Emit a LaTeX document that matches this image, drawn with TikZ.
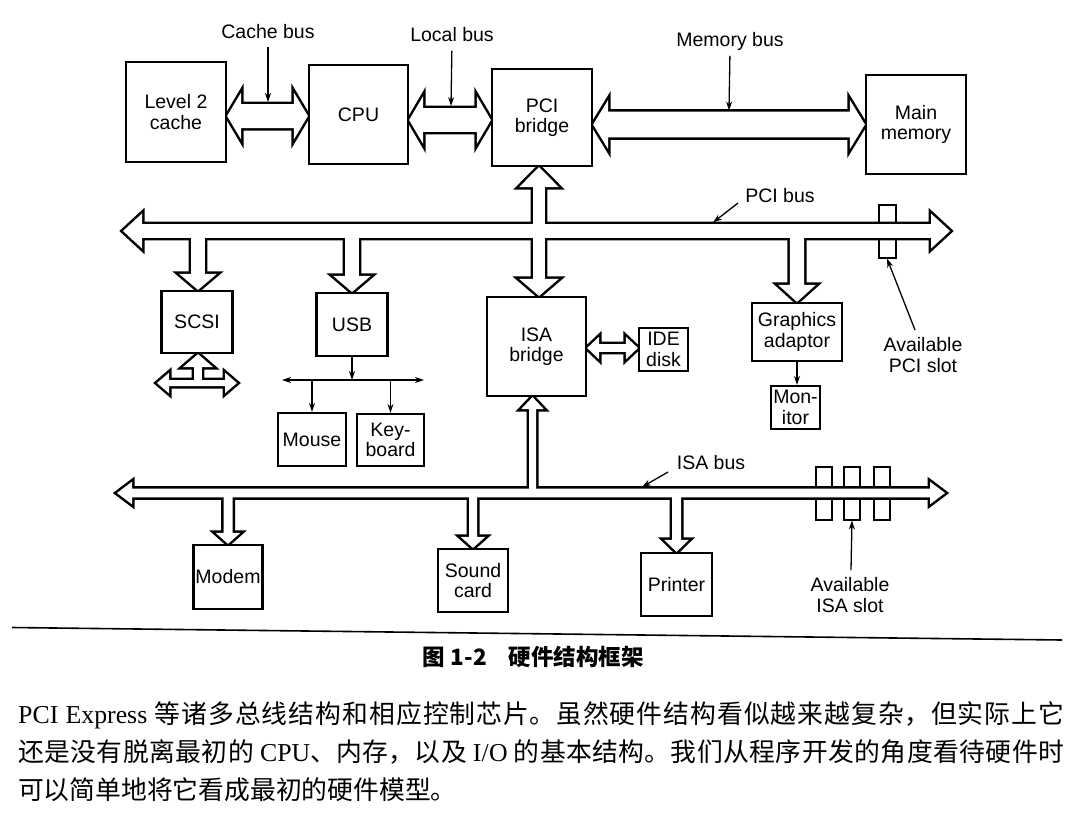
\documentclass[tikz,border=0pt]{standalone}
\usepackage{fontspec}
\setmainfont{Liberation Sans}
\newfontfamily\cjk{Noto Sans CJK SC}
\newfontfamily\tnr{Liberation Serif}
\usetikzlibrary{calc,arrows.meta}
\pgfdeclarelayer{bg}
\pgfsetlayers{bg,main}
\XeTeXlinebreaklocale "zh"
\XeTeXlinebreakskip=0pt plus 4pt
\XeTeXlinebreakpenalty=10000
% horizontal double fat arrow: left tip, right tip, shaft half, head half, head length
\newcommand\HD[5]{(#1) -- ($(#1)+(#5,-#4)$) -- ($(#1)+(#5,-#3)$) -- ($(#2)+(-#5,-#3)$) -- ($(#2)+(-#5,-#4)$) -- (#2) -- ($(#2)+(-#5,#4)$) -- ($(#2)+(-#5,#3)$) -- ($(#1)+(#5,#3)$) -- ($(#1)+(#5,#4)$) -- cycle}
% vertical fat arrow pointing down: start, tip, shaft half, head half, head length
\newcommand\VDn[5]{($(#1)+(-#3,0)$) -- ($(#2)+(-#3,-#5)$) -- ($(#2)+(-#4,-#5)$) -- (#2) -- ($(#2)+(#4,-#5)$) -- ($(#2)+(#3,-#5)$) -- ($(#1)+(#3,0)$) -- cycle}
% vertical fat arrow pointing up
\newcommand\VUp[5]{($(#1)+(-#3,0)$) -- ($(#2)+(-#3,#5)$) -- ($(#2)+(-#4,#5)$) -- (#2) -- ($(#2)+(#4,#5)$) -- ($(#2)+(#3,#5)$) -- ($(#1)+(#3,0)$) -- cycle}
\newcommand\fatshapes[1]{%
 \path[#1] \HD{cbL}{cbR}{12}{23.5}{14};
 \path[#1] \HD{lbL}{lbR}{11.8}{23.8}{14};
 \path[#1] \HD{mbL}{mbR}{12.8}{24.5}{15};
 \path[#1] \HD{pciL}{pciR}{6.8}{17.5}{19};
 \path[#1] \VUp{pUpS}{pUpT}{5.8}{19.8}{20};
 \path[#1] \VDn{pUpS}{pDnT}{5.8}{19.8}{17};
 \path[#1] \VDn{scsiS}{scsiT}{6.8}{18.8}{16};
 \path[#1] \VDn{usbS}{usbT}{6.8}{18.8}{16};
 \path[#1] \VDn{gfxS}{gfxT}{7.2}{18.8}{17};
 \path[#1] \HD{isaL}{isaR}{4.3}{11.3}{15};
 \path[#1] \VUp{iUpS}{iUpT}{3.5}{11.3}{12};
 \path[#1] \VDn{modemS}{modemT}{4.5}{12.3}{11};
 \path[#1] \VDn{soundS}{soundT}{4}{12.3}{11};
 \path[#1] \VDn{printS}{printT}{4.5}{12.3}{12};
 \path[#1] \HD{sbL}{sbR}{3}{10.3}{12};
 \path[#1] \VUp{sUpS}{sUpT}{3.8}{15}{13};
 \path[#1] \HD{ideL}{ideR}{3.8}{11.3}{12};
}
\newcommand\lab{\fontsize{19.5}{20.5}\selectfont}
\begin{document}
\begin{tikzpicture}[x=1pt,y=-1pt,
  box/.style={draw, line width=2.2pt, fill=white, inner sep=0pt, align=center, font=\lab},
  lbl/.style={inner sep=0pt, align=center, font=\lab},
  slotbox/.style={draw, line width=2pt, inner sep=0pt},
  fatline/.style={draw=black, line width=5pt, line join=miter, miter limit=10},
  fatfill/.style={fill=white},
  ptr/.style={line width=1.3pt, -{Stealth[length=9pt,width=6pt]}},
  ptrbi/.style={line width=1.3pt, {Stealth[length=9pt,width=6pt]}-{Stealth[length=9pt,width=6pt]}},
  body/.style={text width=1046pt, align=justify, inner sep=0pt, font=\cjk\fontsize{25.8}{30}\selectfont}]
\useasboundingbox (0,0) rectangle (1077,823);
% ---------- boxes ----------
\node[box, minimum width=100pt, minimum height=100pt] (l2) at (176,112) {Level 2\\cache};
\node[box, minimum width=99pt, minimum height=99pt] (cpu) at (358.5,114.5) {CPU};
\node[box, minimum width=100pt, minimum height=97pt] (pcib) at (542,117.5) {PCI\\bridge};
\node[box, minimum width=100pt, minimum height=99pt] (mem) at (916,124.5) {Main\\memory};
\node[box, minimum width=71pt, minimum height=62pt] (scsi) at (197,322) {SCSI};
\node[box, minimum width=71pt, minimum height=63pt] (usb) at (352,324.5) {USB};
\node[box, minimum width=68pt, minimum height=53pt] (mouse) at (312,439.5) {Mouse};
\node[box, minimum width=67pt, minimum height=52pt] (kbd) at (390.5,440) {Key-\\board};
\node[box, minimum width=99pt, minimum height=99pt] (isab) at (536.5,346.5) {ISA\\bridge};
\node[box, minimum width=49pt, minimum height=43pt] (ide) at (663.5,349.5) {IDE\\disk};
\node[box, minimum width=90pt, minimum height=58pt] (gfx) at (797,332) {Graphics\\adaptor};
\node[box, minimum width=49pt, minimum height=43pt] (mon) at (795.5,407.5) {Mon-\\itor};
\node[box, minimum width=69pt, minimum height=64pt] (modem) at (228,577) {Modem};
\node[box, minimum width=70pt, minimum height=63pt] (sound) at (473,580.5) {Sound\\card};
\node[box, minimum width=71pt, minimum height=63pt] (printer) at (676.5,584.5) {Printer};
% ---------- bus labels ----------
\node[lbl, anchor=base] (lblCache) at (268,38.5) {Cache bus};
\node[lbl, anchor=base] (lblLocal) at (452,41.5) {Local bus};
\node[lbl, anchor=base] (lblMem) at (730,46.5) {Memory bus};
\node[lbl, anchor=base] (lblPCI) at (780,202) {PCI bus};
\node[lbl, anchor=base] (lblISA) at (711,469.5) {ISA bus};
\node[lbl, anchor=north] (lblPslot) at (923,337.5) {Available\\PCI slot};
\node[lbl, anchor=north] (lblIslot) at (850,577.5) {Available\\ISA slot};
% ---------- helper coordinates ----------
\coordinate (yCache) at (0,116);
\coordinate (yLocal) at (0,120);
\coordinate (yMem) at (0,124.5);
\coordinate (yPCI) at (0,231);
\coordinate (yISA) at (0,493);
\coordinate (ySbar) at (0,383);
\coordinate (yIDE) at (0,348);
\coordinate (yUSB) at (0,380);
\coordinate (vx) at (539,0);
\coordinate (xSCSI) at (198,0);
\coordinate (xIU) at (532.5,0);
\coordinate (cbL) at (l2.east |- yCache);
\coordinate (cbR) at (cpu.west |- yCache);
\coordinate (lbL) at (cpu.east |- yLocal);
\coordinate (lbR) at (pcib.west |- yLocal);
\coordinate (mbL) at (pcib.east |- yMem);
\coordinate (mbR) at (mem.west |- yMem);
\coordinate (pciL) at (123,231);
\coordinate (pciR) at (950,231);
\coordinate (pUpT) at (vx |- pcib.south);
\coordinate (pUpS) at (vx |- yPCI);
\coordinate (pDnT) at (vx |- isab.north);
\coordinate (scsiT) at (xSCSI |- scsi.north);
\coordinate (scsiS) at (xSCSI |- yPCI);
\coordinate (usbT) at (usb.north);
\coordinate (usbS) at (usb.north |- yPCI);
\coordinate (gfxT) at (gfx.north);
\coordinate (gfxS) at (gfx.north |- yPCI);
\coordinate (isaL) at (117,493);
\coordinate (isaR) at (945,493);
\coordinate (iUpT) at (xIU |- isab.south);
\coordinate (iUpS) at (xIU |- yISA);
\coordinate (modemT) at (modem.north);
\coordinate (modemS) at (modem.north |- yISA);
\coordinate (soundT) at (sound.north);
\coordinate (soundS) at (sound.north |- yISA);
\coordinate (printT) at (printer.north);
\coordinate (printS) at (printer.north |- yISA);
\coordinate (sbL) at (157,383);
\coordinate (sbR) at (237,383);
\coordinate (sUpT) at (xSCSI |- scsi.south);
\coordinate (sUpS) at (xSCSI |- ySbar);
\coordinate (ideL) at (isab.east |- yIDE);
\coordinate (ideR) at (ide.west |- yIDE);
% ---------- slots and fat arrows (background) ----------
\begin{pgfonlayer}{bg}
\fill[white] (0,0) rectangle (1077,823);
\node[slotbox, minimum width=17pt, minimum height=53pt] (pslot) at (887,231) {};
\node[slotbox, minimum width=16pt, minimum height=53pt] (islot1) at (824,493) {};
\node[slotbox, minimum width=16pt, minimum height=53pt] (islot2) at (852,493) {};
\node[slotbox, minimum width=16pt, minimum height=53pt] (islot3) at (881.5,493) {};
\fatshapes{fatline}
\fatshapes{fatfill}
\end{pgfonlayer}
% ---------- pointer lines ----------
\coordinate (cbTop) at (268,102);
\coordinate (lbTop) at (451,106);
\coordinate (mbTop) at (729,110.5);
\coordinate (pciPtr) at (738,203);
\coordinate (pciTop) at (713,222.5);
\coordinate (isaPtr) at (668,472);
\coordinate (isaTop) at (642,487);
\coordinate (psPtr) at (915,330);
\coordinate (isPtr) at (851,570);
\draw[ptr, shorten <=8pt] (lblCache.south) -- (cbTop);
\draw[ptr, shorten <=9pt] (lblLocal.south) -- (lbTop);
\draw[ptr, shorten <=5pt] (lblMem.south) -- (mbTop);
\draw[ptr] (pciPtr) -- (pciTop);
\draw[ptr] (isaPtr) -- (isaTop);
\draw[ptr] (psPtr) -- (pslot.south);
\draw[ptr] (isPtr) -- (islot2.south);
% ---------- USB and monitor thin arrows ----------
\coordinate (usbJ) at (usb.south |- yUSB);
\coordinate (usbLL) at (282,380);
\coordinate (usbRR) at (424,380);
\draw[ptr] (usb.south) -- (usbJ);
\draw[ptrbi] (usbLL) -- (usbRR);
\draw[ptr] (mouse.north |- yUSB) -- (mouse.north);
\draw[ptr] (kbd.north |- yUSB) -- (kbd.north);
\draw[ptr] (gfx.south) -- (gfx.south |- mon.north);
% ---------- separator, caption, body text ----------
\coordinate (sepL) at (12,627.5);
\coordinate (sepR) at (1062,640);
\draw[line width=1.6pt] (sepL) -- (sepR);
\node[anchor=base west, inner sep=0pt, font=\cjk\bfseries\fontsize{22.5}{24}\selectfont] (cap) at (422,665) {图\hspace{6pt}1-2\hspace{22pt}硬件结构框架};
\node[body, anchor=base west] (t1) at (18,723) {\parfillskip=0pt\relax {\tnr PCI Express }等诸多总线结构和相应控制芯片。虽然硬件结构看似越来越复杂，但实际上它\par};
\node[body, anchor=base west] (t2) at (18,761) {\parfillskip=0pt\relax 还是没有脱离最初的 {\tnr CPU}、内存，以及 {\tnr I/O} 的基本结构。我们从程序开发的角度看待硬件时\par};
\node[body, anchor=base west] (t3) at (18,799) {可以简单地将它看成最初的硬件模型。};
\end{tikzpicture}
\end{document}
